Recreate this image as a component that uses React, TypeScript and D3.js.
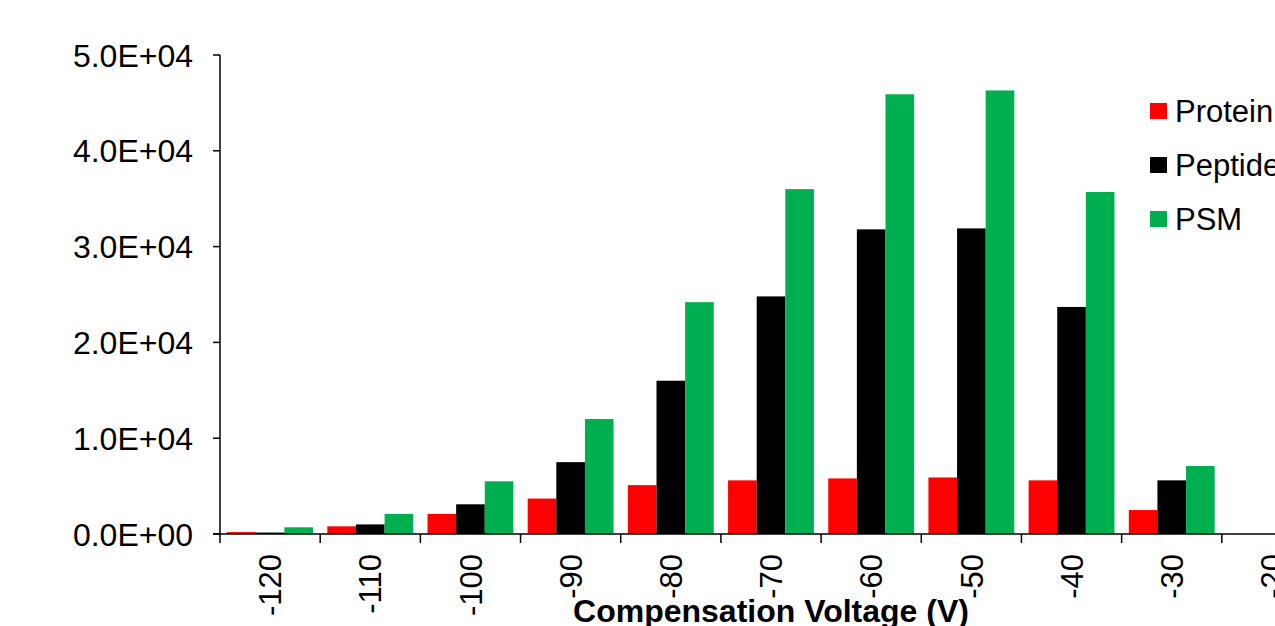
import React from "react";
import * as d3 from "d3";

const categories = ["-120", "-110", "-100", "-90", "-80", "-70", "-60", "-50", "-40", "-30", "-20"];
const seriesNames = ["Protein", "Peptide", "PSM"];
const seriesColors = ["#FF0000", "#000000", "#00B050"];
const proteinValues = [200, 800, 2100, 3700, 5100, 5600, 5800, 5900, 5600, 2500, 0];
const peptideValues = [150, 1000, 3100, 7500, 16000, 24800, 31800, 31900, 23700, 5600, 0];
const psmValues = [700, 2100, 5500, 12000, 24200, 36000, 45900, 46300, 35700, 7100, 0];
const yTicks = [0, 10000, 20000, 30000, 40000, 50000];
const xTitle = "Compensation Voltage (V)";

const W = 1275;
const H = 626;
const FONT = "'Liberation Sans', Arial, sans-serif";

export default function App() {
  const left = 220;
  const right = 1322;
  const top = 55;
  const bottom = 534;
  const series = [proteinValues, peptideValues, psmValues];

  const x = d3.scaleBand<string>().domain(categories).range([left, right]).paddingInner(0).paddingOuter(0);
  const gap = 0.5;
  const barW = x.bandwidth() / (3 + gap);
  const y = d3.scaleLinear().domain([0, 50000]).range([bottom, top]);
  const fmt = (v: number) => {
    const e = v === 0 ? 0 : Math.floor(Math.log10(v));
    const m = v === 0 ? 0 : v / Math.pow(10, e);
    return `${m.toFixed(1)}E+${String(e).padStart(2, "0")}`;
  };

  const boundaries = categories.map((c) => x(c) as number).concat([right]);

  return (
    <svg width={W} height={H} style={{ position: "absolute", left: 0, top: 0, background: "#fff" }}>
      <rect x={0} y={0} width={W} height={H} fill="#fff" />
      {series.map((vals, si) =>
        vals.map((v, i) => {
          const x0 = (x(categories[i]) as number) + (gap * barW) / 2 + si * barW;
          return (
            <rect
              key={`${si}-${i}`}
              x={x0}
              y={y(v)}
              width={barW}
              height={bottom - y(v)}
              fill={seriesColors[si]}
            />
          );
        })
      )}
      {/* y axis */}
      <line x1={left} x2={left} y1={top} y2={bottom} stroke="#000" strokeWidth={1.5} />
      {yTicks.map((t) => (
        <g key={t}>
          <line x1={left - 7} x2={left} y1={y(t)} y2={y(t)} stroke="#000" strokeWidth={1.5} />
          <text
            x={left - 27}
            y={y(t)}
            dy="0.36em"
            textAnchor="end"
            fontFamily={FONT}
            fontSize={32}
            fill="#000"
          >
            {fmt(t)}
          </text>
        </g>
      ))}
      {/* x axis */}
      <line x1={left - 7} x2={right} y1={bottom} y2={bottom} stroke="#000" strokeWidth={1.5} />
      {boundaries.map((b, i) => (
        <line key={i} x1={b} x2={b} y1={bottom} y2={bottom + 9} stroke="#000" strokeWidth={1.5} />
      ))}
      {categories.map((c) => {
        const cx = (x(c) as number) + x.bandwidth() / 2;
        return (
          <text
            key={c}
            transform={`translate(${cx},${bottom + 20}) rotate(-90)`}
            textAnchor="end"
            dy="0.36em"
            fontFamily={FONT}
            fontSize={31}
            fill="#000"
          >
            {c}
          </text>
        );
      })}
      <text
        x={(left + right) / 2}
        y={622}
        textAnchor="middle"
        fontFamily={FONT}
        fontWeight="bold"
        fontSize={32}
        fill="#000"
      >
        {xTitle}
      </text>
      {/* legend */}
      {seriesNames.map((n, i) => {
        const cy = 111 + i * 54;
        return (
          <g key={n}>
            <rect x={1150} y={cy - 8} width={17} height={16} fill={seriesColors[i]} />
            <text x={1175} y={cy} dy="0.36em" fontFamily={FONT} fontSize={31} fill="#000">
              {n}
            </text>
          </g>
        );
      })}
    </svg>
  );
}
